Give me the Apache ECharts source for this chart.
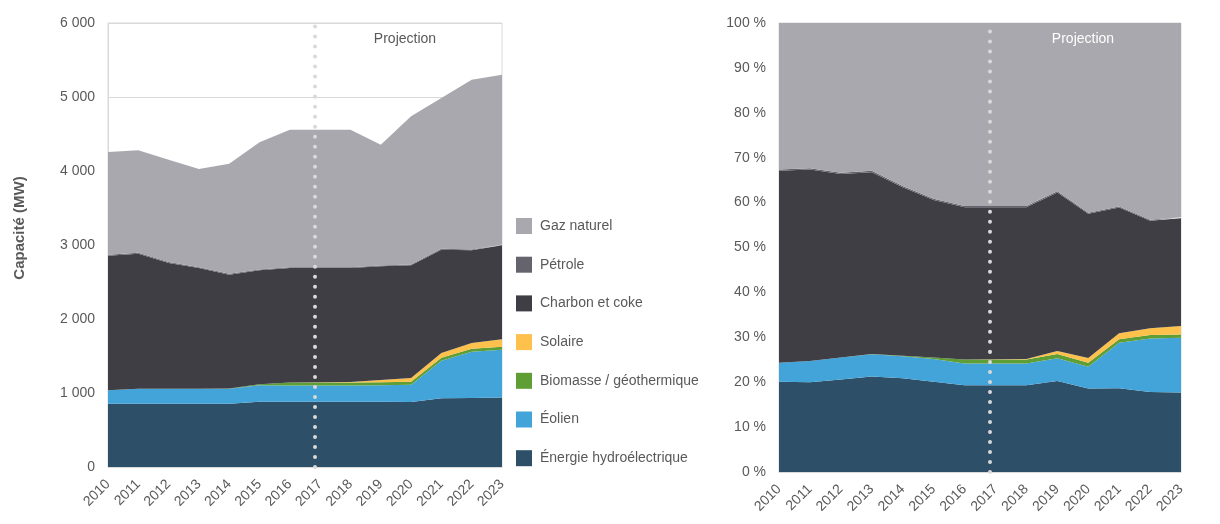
<!DOCTYPE html>
<html>
<head>
<meta charset="utf-8">
<script src="https://cdn.jsdelivr.net/npm/echarts@6/dist/echarts.min.js"></script>
<style>
html,body{margin:0;padding:0;background:#fff;}
#chart{width:1220px;height:524px;}
</style>
</head>
<body>
<div id="chart"></div>
<script>
const years = ['2010','2011','2012','2013','2014','2015','2016','2017','2018','2019','2020','2021','2022','2023'];
const hydro   = [856, 856, 856, 856, 856, 882, 882, 882, 882, 882, 880, 930, 932, 940];
const eolien  = [180, 203, 203, 200, 200, 222, 220, 220, 220, 222, 232, 505, 625, 645];
const biomasse= [0, 0, 0, 2, 5, 15, 40, 40, 40, 40, 40, 40, 40, 40];
const solaire = [0, 0, 0, 0, 0, 0, 0, 2, 5, 30, 50, 65, 80, 100];
const charbon = [1820, 1824, 1698, 1631, 1538, 1539, 1547, 1545, 1542, 1538, 1523, 1397, 1251, 1270];
const petrole = [12, 12, 12, 12, 12, 12, 12, 12, 12, 12, 12, 12, 12, 12];
const gaz     = [1389, 1384, 1384, 1326, 1488, 1717, 1858, 1858, 1858, 1632, 2002, 2037, 2294, 2295];
const yTicksMW = [0, 1000, 2000, 3000, 4000, 5000, 6000];
const yTicksPct = [0, 10, 20, 30, 40, 50, 60, 70, 80, 90, 100];
const projectionStart = 6.83; // dotted separator position, in year-index units (just before 2017)

const names = ['Énergie hydroélectrique','Éolien','Biomasse / géothermique','Solaire','Charbon et coke','Pétrole','Gaz naturel'];
const colors = ['#2d5068','#43a4d9','#5e9e35','#fdc14c','#3f3e45','#65646c','#a9a8ae'];
const seriesData = [hydro, eolien, biomasse, solaire, charbon, petrole, gaz];

const totals = years.map((_, i) => seriesData.reduce((s, arr) => s + arr[i], 0));
const pctData = seriesData.map(arr => arr.map((v, i) => v / totals[i] * 100));

const FONT = "'Liberation Sans', Arial, sans-serif";
const TXT = '#595959';

function fmtThousands(v){ return String(v).replace(/\B(?=(\d{3})+(?!\d))/g, ' '); }

const dotted = {
  silent: true,
  symbol: ['none','none'],
  label: {show:false},
  lineStyle: {color:'#d9d9d9', width:4, type:[0.01, 10], cap:'round', opacity:1},
  emphasis: {disabled:true},
  data: [{xAxis: projectionStart}]
};

const series = [];
seriesData.forEach((arr, k) => {
  series.push({
    name: names[k], type:'line', stack:'abs', xAxisIndex:0, yAxisIndex:0,
    data: arr, showSymbol:false, symbol:'none',
    lineStyle:{width:0}, areaStyle:{color:colors[k], opacity:1},
    itemStyle:{color:colors[k]}, silent:true
  });
});
pctData.forEach((arr, k) => {
  series.push({
    name: names[k], type:'line', stack:'pct', xAxisIndex:1, yAxisIndex:1,
    data: arr, showSymbol:false, symbol:'none',
    lineStyle:{width:0}, areaStyle:{color:colors[k], opacity:1},
    itemStyle:{color:colors[k]}, silent:true
  });
});
// separator carriers on hidden value x-axes
[2, 3].forEach((xi, g) => {
  series.push({
    name:'sep' + g, type:'line', xAxisIndex:xi, yAxisIndex:g,
    data:[[projectionStart, 0]], showSymbol:false, symbol:'none',
    lineStyle:{width:0}, silent:true, z:10,
    markLine: dotted
  });
});

const xAxisCommon = {
  type:'category', data: years, boundaryGap:false,
  axisLine:{lineStyle:{color:'#d9d9d9'}}, axisTick:{show:false},
  axisLabel:{rotate:45, color:TXT, fontSize:14, fontFamily:FONT, margin:15, interval:0}
};
const hiddenX = {type:'value', min:0, max:years.length-1, show:false, splitLine:{show:false}};

const chart = echarts.init(document.getElementById('chart'));
chart.setOption({
  animation:false,
  backgroundColor:'#ffffff',
  textStyle:{fontFamily:FONT},
  grid:[
    {left:108, top:23, width:394, height:444, show:true, borderColor:'#d9d9d9', borderWidth:1, containLabel:false},
    {left:779, top:23, width:402, height:449, show:true, borderColor:'#d9d9d9', borderWidth:1, containLabel:false}
  ],
  xAxis:[
    Object.assign({gridIndex:0}, xAxisCommon),
    Object.assign({gridIndex:1}, xAxisCommon),
    Object.assign({gridIndex:0}, hiddenX),
    Object.assign({gridIndex:1}, hiddenX)
  ],
  yAxis:[
    {type:'value', gridIndex:0, min:yTicksMW[0], max:yTicksMW[yTicksMW.length-1], interval:1000,
     axisLine:{show:true, lineStyle:{color:'#d9d9d9'}}, axisTick:{show:false},
     splitLine:{lineStyle:{color:'#d9d9d9'}},
     axisLabel:{color:TXT, fontSize:14, fontFamily:FONT, margin:13, formatter:v => fmtThousands(v)}},
    {type:'value', gridIndex:1, min:yTicksPct[0], max:yTicksPct[yTicksPct.length-1], interval:10,
     axisLine:{show:true, lineStyle:{color:'#d9d9d9'}}, axisTick:{show:false},
     splitLine:{lineStyle:{color:'#d9d9d9'}},
     axisLabel:{color:TXT, fontSize:14, fontFamily:FONT, margin:13, formatter:v => v + ' %'}}
  ],
  legend:{
    orient:'vertical', left:516, top:218, padding:0,
    itemWidth:16, itemHeight:16, itemGap:22.7,
    icon:'rect',
    selectedMode:false,
    textStyle:{color:TXT, fontSize:14, fontFamily:FONT, padding:[0,0,0,3]},
    data: names.slice().reverse()
  },
  graphic:[
    {type:'text', x:20, y:228, rotation:Math.PI/2,
     style:{text:'Capacité (MW)', font:'bold 15px ' + FONT, fill:TXT, align:'center', verticalAlign:'middle'}},
    {type:'text', x:405, y:39,
     style:{text:'Projection', font:'14px ' + FONT, fill:TXT, align:'center', verticalAlign:'middle'}},
    {type:'text', x:1083, y:39, z:100,
     style:{text:'Projection', font:'14px ' + FONT, fill:'#ffffff', align:'center', verticalAlign:'middle'}}
  ],
  series: series
});
</script>
</body>
</html>
